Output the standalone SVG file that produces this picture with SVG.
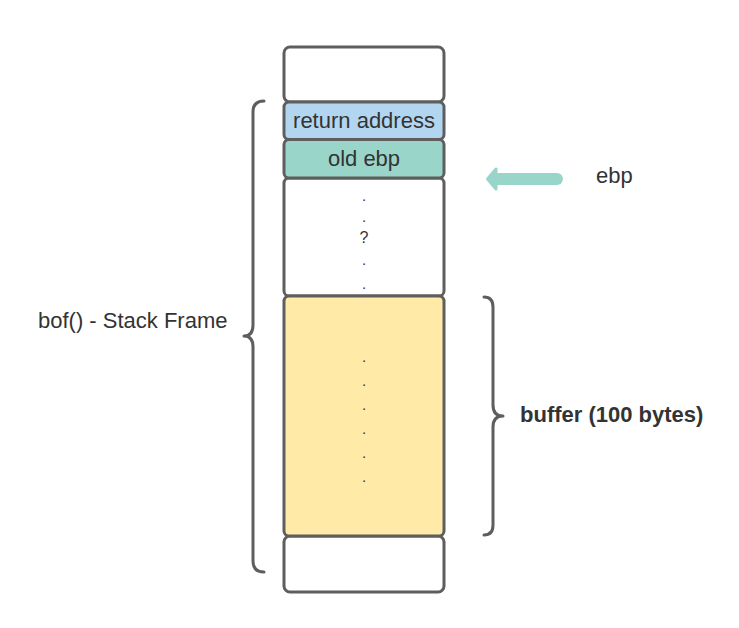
<svg xmlns="http://www.w3.org/2000/svg" width="739" height="628" viewBox="0 0 739 628">
<style>
.cell{stroke:#5e5e5e;stroke-width:3}
.t{font-family:"Liberation Sans",Arial,sans-serif;font-size:22px;fill:#333333}
.c{text-anchor:middle}
.d{font-family:"Liberation Sans",Arial,sans-serif;font-size:15px;fill:#333333;text-anchor:middle}
.brace{fill:none;stroke:#5e5e5e;stroke-width:3;stroke-linecap:round;stroke-linejoin:round}
</style>
<rect width="739" height="628" fill="#ffffff"/>
<g id="cell-top"><rect class="cell" x="284" y="47" width="160" height="55" rx="6" fill="#ffffff"/></g>
<g id="cell-bottom"><rect class="cell" x="284" y="536" width="160" height="56" rx="6" fill="#ffffff"/></g>
<g id="cell-gap">
<rect class="cell" x="284" y="178" width="160" height="118" rx="5" fill="#ffffff"/>
<text class="d" x="364" y="201">.</text>
<text class="d" x="364" y="222">.</text>
<text class="t c" x="364" y="243" style="font-size:16px">?</text>
<text class="d" x="364" y="265">.</text>
<text class="d" x="364" y="289">.</text>
</g>
<g id="cell-buffer">
<rect class="cell" x="284" y="296" width="160" height="240" rx="5" fill="#ffeaa8"/>
<text class="d" x="364" y="362">.</text>
<text class="d" x="364" y="386">.</text>
<text class="d" x="364" y="410">.</text>
<text class="d" x="364" y="434">.</text>
<text class="d" x="364" y="458">.</text>
<text class="d" x="364" y="482">.</text>
</g>
<g id="cell-return">
<rect class="cell" x="284" y="102" width="160" height="37.5" rx="5" fill="#b3d6f0"/>
<text class="t c" x="364" y="128">return address</text>
</g>
<g id="cell-oldebp">
<rect class="cell" x="284" y="139.5" width="160" height="38.5" rx="5" fill="#9ad5c9"/>
<text class="t c" x="364" y="166">old ebp</text>
</g>
<g id="connectors">
<path class="brace" d="M264,101 Q253,101 253,112 L253,325 Q253,336 244,336 Q253,336 253,347 L253,561 Q253,572 264,572"/>
<path class="brace" d="M484,297 Q493,297 493,307 L493,405 Q493,416 503,416 Q493,416 493,427 L493,525 Q493,535 484,535"/>
<g id="ebp-arrow">
<line x1="557" y1="179" x2="494" y2="179" stroke="#9ad5c9" stroke-width="12" stroke-linecap="round"/>
<polygon points="487.5,179 496,169 496,189" fill="#9ad5c9" stroke="#9ad5c9" stroke-width="3" stroke-linejoin="round"/>
</g>
</g>
<g id="labels">
<text class="t" x="38" y="328">bof() - Stack Frame</text>
<text class="t" x="596" y="183">ebp</text>
<text class="t" x="520" y="422" font-weight="bold">buffer (100 bytes)</text>
</g>
</svg>
